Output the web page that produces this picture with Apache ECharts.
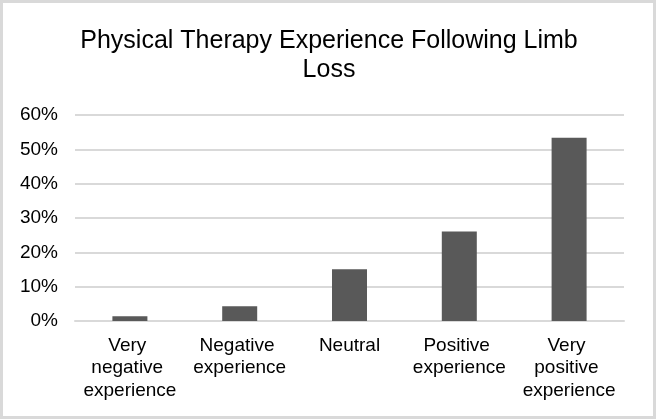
<!DOCTYPE html>
<html>
<head>
<meta charset="utf-8">
<script src="https://cdn.jsdelivr.net/npm/echarts@6/dist/echarts.min.js"></script>
<style>
html,body{margin:0;padding:0;background:#fff;}
#c{width:656px;height:419px;}
</style>
</head>
<body>
<div id="c"></div>
<script>
const titleLines = ['Physical Therapy Experience Following Limb', 'Loss'];
const categories = ['Very negative experience', 'Negative experience', 'Neutral', 'Positive experience', 'Very positive experience'];
const values = [1.4, 4.3, 15.1, 26.1, 53.4];
const yTicks = [0, 10, 20, 30, 40, 50, 60];

const chart = echarts.init(document.getElementById('c'), null, {renderer: 'canvas'});
const font = 'Liberation Sans, Arial, sans-serif';
chart.setOption({
  animation: false,
  graphic: [{
    type: 'rect',
    shape: {x: 1.5, y: 1.5, width: 653, height: 416},
    style: {fill: 'none', stroke: '#d9d9d9', lineWidth: 3},
    silent: true
  }],
  title: {
    text: titleLines.join('\n'),
    left: 324,
    top: 22,
    textAlign: 'center',
    textStyle: {
      fontFamily: font, fontSize: 25, fontWeight: 'normal', color: '#000',
      lineHeight: 29
    }
  },
  grid: {left: 75, right: 32, top: 115, bottom: 98, containLabel: false},
  xAxis: {
    type: 'category',
    data: categories,
    axisLine: {show: true, lineStyle: {color: '#d9d9d9', width: 2}},
    axisTick: {show: false},
    axisLabel: {
      interval: 0, fontFamily: font, fontSize: 19, color: '#000',
      width: 100, overflow: 'break', lineHeight: 22.7, margin: 13
    }
  },
  yAxis: {
    type: 'value',
    min: yTicks[0], max: yTicks[yTicks.length - 1], interval: 10,
    axisLine: {show: false},
    axisTick: {show: false},
    splitLine: {lineStyle: {color: '#d9d9d9', width: 2}},
    axisLabel: {fontFamily: font, fontSize: 19, color: '#000', margin: 17, formatter: v => v + '%'}
  },
  series: [{
    type: 'bar',
    data: values,
    barWidth: 35,
    itemStyle: {color: '#595959'}
  }]
});
</script>
</body>
</html>
